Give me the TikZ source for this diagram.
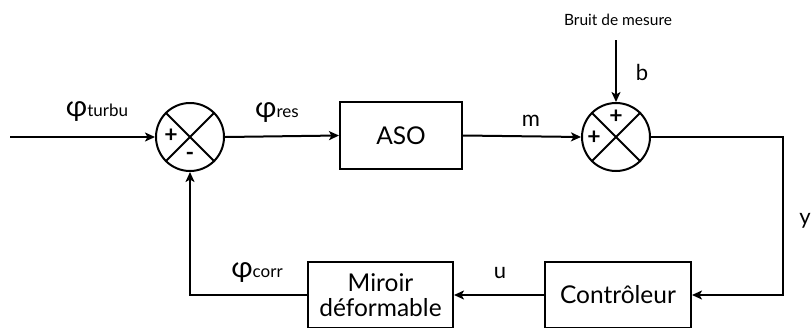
\documentclass[tikz,border=0pt]{standalone}
\usepackage{fontspec}
\setmainfont{Lato}
\usetikzlibrary{arrows.meta}
\begin{document}
\begin{tikzpicture}[x=1pt,y=-1pt,
  wire/.style={line width=2pt},
  arr/.style={wire,-{Stealth[length=10pt,width=9pt,inset=2.5pt]}},
  block/.style={draw,line width=2pt,minimum width=#1,minimum height=66pt,inner sep=0pt,align=center,font=\fontsize{24.5}{28}\selectfont},
  summer/.style={draw,circle,line width=2pt,minimum size=68pt,inner sep=0pt},
  sgn/.style={font=\fontsize{23}{23}\selectfont\bfseries,inner sep=0pt},
  lbl/.style={font=\fontsize{22}{24}\selectfont,inner sep=0pt},
  phi/.style={inner sep=0pt}]
\useasboundingbox (0,0) rectangle (811,327);
\coordinate (in) at (10,137);
\node[summer] (s1) at (190,137) {};
\draw[wire] (s1.45) -- (s1.225) (s1.135) -- (s1.315);
\node[sgn] (p1) at (171,136) {+};
\node[sgn] (m1) at (190,156) {-};
\node[block=122pt,minimum height=67pt] (aso) at (401,135.5) {ASO};
\node[summer] (s2) at (616,137) {};
\draw[wire] (s2.45) -- (s2.225) (s2.135) -- (s2.315);
\node[sgn] (p2) at (594,138) {+};
\node[sgn] (p3) at (616,117) {+};
\node[font=\fontsize{15.5}{17}\selectfont,inner sep=0pt] (bruit) at (618,20) {Bruit de mesure};
\coordinate (btop) at (616,40);
\node[block=146pt] (ctrl) at (618,295) {Contrôleur};
\node[block=145pt] (mir) at (380.5,295) {Miroir\\[-3pt]déformable};
\coordinate (c1) at (783,137);
\coordinate (c2) at (783,295);
\coordinate (c3) at (190,295);
\draw[arr] (in) -- (s1.west);
\draw[arr] (s1.east) -- (aso.west);
\draw[arr] (aso.east) -- (s2.west);
\draw[arr] (btop) -- (s2.north);
\draw[arr] (s2.east) -- (c1) -- (c2) -- (ctrl.east);
\draw[arr] (ctrl.west) -- (mir.east);
\draw[arr] (mir.west) -- (c3) -- (s1.south);
\node[phi] (lt) at (97,112) {{\fontsize{29}{29}\selectfont φ}{\fontsize{17}{17}\selectfont turbu}};
\node[phi] (lr) at (277,113) {{\fontsize{29}{29}\selectfont φ}{\fontsize{17}{17}\selectfont res}};
\node[phi] (lc) at (257,273) {{\fontsize{29}{29}\selectfont φ}{\fontsize{17}{17}\selectfont corr}};
\node[lbl] (lm) at (531,121) {m};
\node[lbl] (lb) at (642,72) {b};
\node[lbl] (lu) at (500,273) {u};
\node[lbl,anchor=east] (ly) at (811,221) {y};
\end{tikzpicture}
\end{document}
